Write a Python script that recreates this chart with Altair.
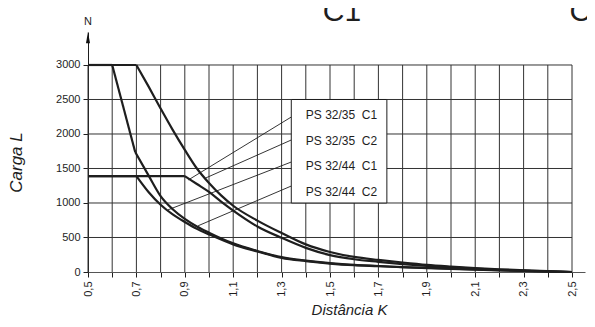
import altair as alt
import pandas as pd

# ---------------- data ----------------
x_tick_values = [0.5, 0.6, 0.7, 0.8, 0.9, 1.0, 1.1, 1.2, 1.3, 1.4, 1.5, 1.6, 1.7,
                 1.8, 1.9, 2.0, 2.1, 2.2, 2.3, 2.4, 2.5]
y_tick_values = [0, 500, 1000, 1500, 2000, 2500, 3000]
grid_y_values = [500, 1000, 1500, 2000, 2500, 3000]

# PS 32/35 C2 (upper curve, 3000 N up to 0.7)
A_flat_x = [0.5, 0.7]
A_flat_y = [3000, 3000]
A_x = [0.7, 0.75, 0.8, 0.85, 0.9, 0.95, 1.0, 1.05, 1.1, 1.2, 1.3, 1.4, 1.5, 1.6,
       1.7, 1.8, 1.9, 2.0, 2.1, 2.2, 2.3, 2.4, 2.5]
A_y = [3000, 2690, 2370, 2060, 1770, 1500, 1290, 1110, 960, 745, 565, 400, 290, 218,
       175, 138, 105, 80, 58, 40, 25, 12, 0]

# PS 32/35 C1 (1390 N up to 0.9)
C_flat_x = [0.5, 0.9]
C_flat_y = [1390, 1390]
C_x = [0.9, 0.95, 1.0, 1.05, 1.1, 1.2, 1.3, 1.4, 1.5, 1.6, 1.7, 1.8, 1.9, 2.0,
       2.1, 2.2, 2.3, 2.4, 2.5]
C_y = [1390, 1275, 1160, 1020, 890, 660, 495, 350, 245, 185, 148, 115, 88, 66,
       48, 32, 19, 8, 0]

# PS 32/44 C2 (3000 N up to 0.6)
B_flat_x = [0.5, 0.6]
B_flat_y = [3000, 3000]
B_steep_x = [0.6, 0.695]
B_steep_y = [3000, 1740]
B_x = [0.695, 0.75, 0.8, 0.85, 0.9, 0.95, 1.0, 1.1, 1.2, 1.3, 1.4, 1.5, 1.6, 1.7,
       1.8, 1.9, 2.0, 2.1, 2.2, 2.3, 2.4, 2.5]
B_y = [1740, 1400, 1100, 910, 770, 660, 570, 415, 305, 215, 165, 128, 102, 87,
       72, 60, 48, 36, 26, 16, 7, 0]

# PS 32/44 C1 (1390 N up to 0.7)
D_flat_x = [0.5, 0.7]
D_flat_y = [1390, 1390]
D_x = [0.7, 0.75, 0.8, 0.85, 0.9, 0.95, 1.0, 1.1, 1.2, 1.3, 1.4, 1.5, 1.6, 1.7,
       1.8, 1.9, 2.0, 2.1, 2.2, 2.3, 2.4, 2.5]
D_y = [1390, 1160, 975, 835, 725, 625, 545, 400, 298, 205, 158, 122, 98, 84,
       69, 57, 45, 34, 24, 15, 7, 0]

legend_labels = ["PS 32/35\u00a0 C1", "PS 32/35\u00a0 C2", "PS 32/44\u00a0 C1", "PS 32/44\u00a0 C2"]
legend_label_y = [2275, 1899, 1536, 1159]
legend_label_x = [1.40, 1.40, 1.40, 1.40]
box_x = [1.34]
box_x2 = [1.735]
box_y = [1000]
box_y2 = [2500]
leader_x_start = [1.34, 1.34, 1.34, 1.34]
leader_y_start = [2246, 1913, 1594, 1246]
leader_x_end = [0.915, 0.985, 0.83, 0.955]
leader_y_end = [1335, 1360, 900, 670]

X_MIN, X_MAX = 0.5, 2.5537
Y_MIN, Y_MAX = 0, 3478

FONT = "Liberation Sans"
INK = "#1e1e1e"

# ---------------- tables ----------------
segments = [
    ("A", "A0", A_flat_x, A_flat_y), ("A", "A1", A_x, A_y),
    ("C", "C0", C_flat_x, C_flat_y), ("C", "C1", C_x, C_y),
    ("B", "B0", B_flat_x, B_flat_y), ("B", "B1", B_steep_x, B_steep_y), ("B", "B2", B_x, B_y),
    ("D", "D0", D_flat_x, D_flat_y), ("D", "D1", D_x, D_y),
]
rows = []
for s, seg, xs_, ys_ in segments:
    for i, (xv, yv) in enumerate(zip(xs_, ys_)):
        rows.append({"series": s, "seg": seg, "x": xv, "y": yv, "order": i})
curves = pd.DataFrame(rows)

vgrid = pd.DataFrame({"x": x_tick_values, "y": [0] * len(x_tick_values),
                      "y2": [3000] * len(x_tick_values)})
hgrid = pd.DataFrame({"y": grid_y_values, "x": [0.5] * len(grid_y_values),
                      "x2": [2.5] * len(grid_y_values)})
box = pd.DataFrame({"x": box_x, "x2": box_x2, "y": box_y, "y2": box_y2})
leaders = pd.DataFrame({"x": leader_x_start, "y": leader_y_start,
                        "x2": leader_x_end, "y2": leader_y_end})
labels = pd.DataFrame({"x": legend_label_x, "y": legend_label_y, "t": legend_labels})
arrow = pd.DataFrame({"x": [0.5], "y": [3399]})
ntext = pd.DataFrame({"x": [0.5], "y": [3623], "t": ["N"]})
bigtext = pd.DataFrame({"x": [1.47, 2.49], "y": [3640, 3640], "t": ["C1", "C2"]})

xs = alt.Scale(domain=[X_MIN, X_MAX], nice=False, zero=False)
ys = alt.Scale(domain=[Y_MIN, Y_MAX], nice=False, zero=False)

label_expr = ("abs(round(datum.value*10) % 2) == 1 ? "
              "replace(format(datum.value, '.1f'), '.', ',') : ''")

x_axis = alt.Axis(values=x_tick_values, labelExpr=label_expr, labelAngle=-90,
                  labelAlign="right", labelBaseline="middle",
                  tickSize=5, tickColor=INK, domainColor="#555", domainWidth=1,
                  labelFont=FONT, labelFontSize=11, labelColor=INK, labelPadding=4,
                  grid=False, title="Distância K", titleFont=FONT, titleFontSize=15,
                  titleFontStyle="italic", titleFontWeight="normal", titleColor=INK,
                  titleX=261, titleY=30, titleAlign="center")
y_axis = alt.Axis(values=y_tick_values, format="d", tickSize=5, tickColor=INK,
                  domainColor=INK, domainWidth=1, labelFont=FONT, labelFontSize=11,
                  labelColor=INK, labelPadding=3, grid=False, title="Carga L",
                  titleFont=FONT, titleFontSize=17, titleFontStyle="italic",
                  titleFontWeight="normal", titleColor=INK, titleX=-63, titleY=130,
                  titleAlign="center")

X = alt.X("x:Q", scale=xs, axis=x_axis)
Y = alt.Y("y:Q", scale=ys, axis=y_axis)

vg = alt.Chart(vgrid).mark_rule(color="#333", strokeWidth=1).encode(x=X, y=Y, y2="y2:Q")
hg = alt.Chart(hgrid).mark_rule(color="#333", strokeWidth=1).encode(x=X, x2="x2:Q", y=Y)
lines = alt.Chart(curves).mark_line(color=INK, strokeWidth=2.2, interpolate="monotone").encode(
    x=X, y=Y, detail="seg:N", order="order:Q")
boxm = alt.Chart(box).mark_rect(fill="white", stroke=INK, strokeWidth=1).encode(
    x=X, x2="x2:Q", y=Y, y2="y2:Q")
lead = alt.Chart(leaders).mark_rule(color=INK, strokeWidth=0.9).encode(
    x=X, x2="x2:Q", y=Y, y2="y2:Q")
labs = alt.Chart(labels).mark_text(align="left", baseline="middle", font=FONT,
                                   fontSize=12, color=INK).encode(x=X, y=Y, text="t:N")
arr = alt.Chart(arrow).mark_point(shape="M0,-1L0.35,1L-0.35,1Z", filled=True, size=132,
                                  color="#111", opacity=1).encode(x=X, y=Y)
nt = alt.Chart(ntext).mark_text(align="center", baseline="middle", font=FONT,
                                fontSize=11, color=INK).encode(x=X, y=Y, text="t:N")
bt = alt.Chart(bigtext).mark_text(align="left", baseline="alphabetic", font=FONT,
                                  fontSize=30, color=INK).encode(x=X, y=Y, text="t:N")

chart = alt.layer(vg, hg, lines, lead, boxm, labs, arr, nt, bt).properties(
    width=497, height=240,
    padding={"left": 80, "top": 24, "right": 2, "bottom": 47},
    autosize=alt.AutoSizeParams(type="none"),
    background="white",
).configure_view(stroke=None)

chart.save("out.html", embed_options={"renderer": "svg", "actions": False})
